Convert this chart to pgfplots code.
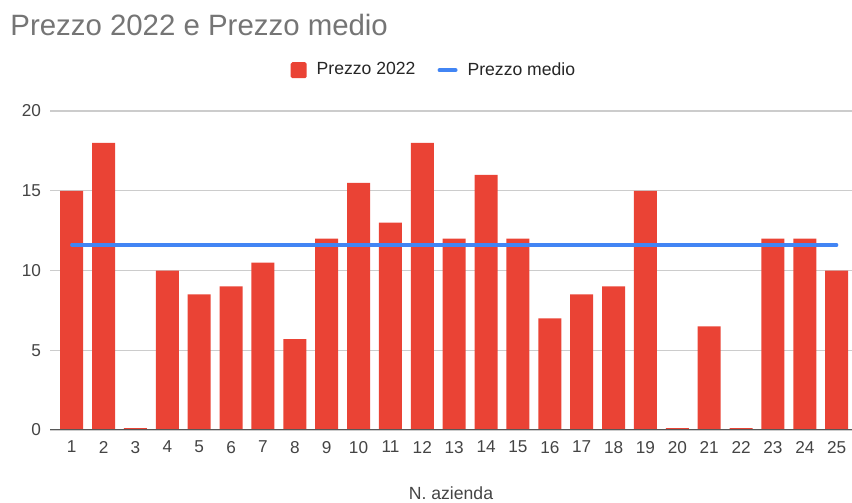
\documentclass[border=0pt]{standalone}
\usepackage{fontspec}
\setmainfont{Liberation Sans}
\usepackage{pgfplots}
\pgfplotsset{compat=1.18}
\definecolor{barred}{HTML}{EA4335}
\definecolor{avgblue}{HTML}{4285F4}
\definecolor{titlegray}{HTML}{757575}
\definecolor{ticktext}{HTML}{444444}
\definecolor{gridgray}{HTML}{CCCCCC}

\pgfplotstableread{
n  prezzo
1  15
2  18
3  0.12
4  10
5  8.5
6  9
7  10.5
8  5.7
9  12
10 15.5
11 13
12 18
13 12
14 16
15 12
16 7
17 8.5
18 9
19 15
20 0.12
21 6.5
22 0.12
23 12
24 12
25 10
}\prezzi

\begin{document}
\begin{tikzpicture}
  \useasboundingbox (0,-36.5pt) rectangle (426pt,251.5pt-36.5pt);
  \node[anchor=base west, text=titlegray, font=\fontsize{14.7}{17}\selectfont, inner sep=0pt]
    at (5pt,197pt) {Prezzo 2022 e Prezzo medio};
  \begin{axis}[at={(25pt,0pt)}, anchor=south west, scale only axis,
      width=401pt, height=159.5pt,
      xmin=0.32, xmax=25.48, ymin=0, ymax=20,
      xtick={1,...,25}, ytick={0,5,10,15,20},
      major tick length=0pt,
      ymajorgrids, grid style={gridgray, line width=0.6pt},
      axis line style={draw=none},
      axis x line*=bottom,
      /pgf/number format/assume math mode=true,
      tick label style={font=\fontsize{8.6}{10}\selectfont, text=ticktext},
      xticklabel style={yshift=-2pt},
      yticklabel style={xshift=-1pt},
      xlabel={N. azienda},
      xlabel style={at={(axis description cs:0.5,0)}, anchor=center, yshift=-31.5pt,
        font=\fontsize{8.8}{10}\selectfont, text=ticktext},
      legend columns=2,
      legend style={at={(axis description cs:0.48,1.128)}, anchor=center, draw=none,
        font=\fontsize{8.8}{10}\selectfont, text=black!85,
        /tikz/every odd column/.append style={column sep=3pt},
        /tikz/every even column/.append style={column sep=9pt}},
    ]
    \addplot[ybar, bar width=11.5pt, fill=barred, draw=none,
      legend image code/.code={\fill[barred, rounded corners=0.8pt] (0pt,-4pt) rectangle (8pt,4pt);}]
      table[x=n, y=prezzo] {\prezzi};
    \addlegendentry{Prezzo 2022}
    \addplot[avgblue, line width=1.6pt, line cap=round,
      legend image code/.code={\draw[avgblue, line width=2pt, line cap=round] (0pt,0pt) -- (8pt,0pt);}]
      coordinates {(1,11.6) (25,11.6)};
    \addlegendentry{Prezzo medio}
    \draw[ticktext!90, line width=0.8pt] (axis cs:0.32,0) -- (axis cs:25.48,0);
  \end{axis}
\end{tikzpicture}
\end{document}
